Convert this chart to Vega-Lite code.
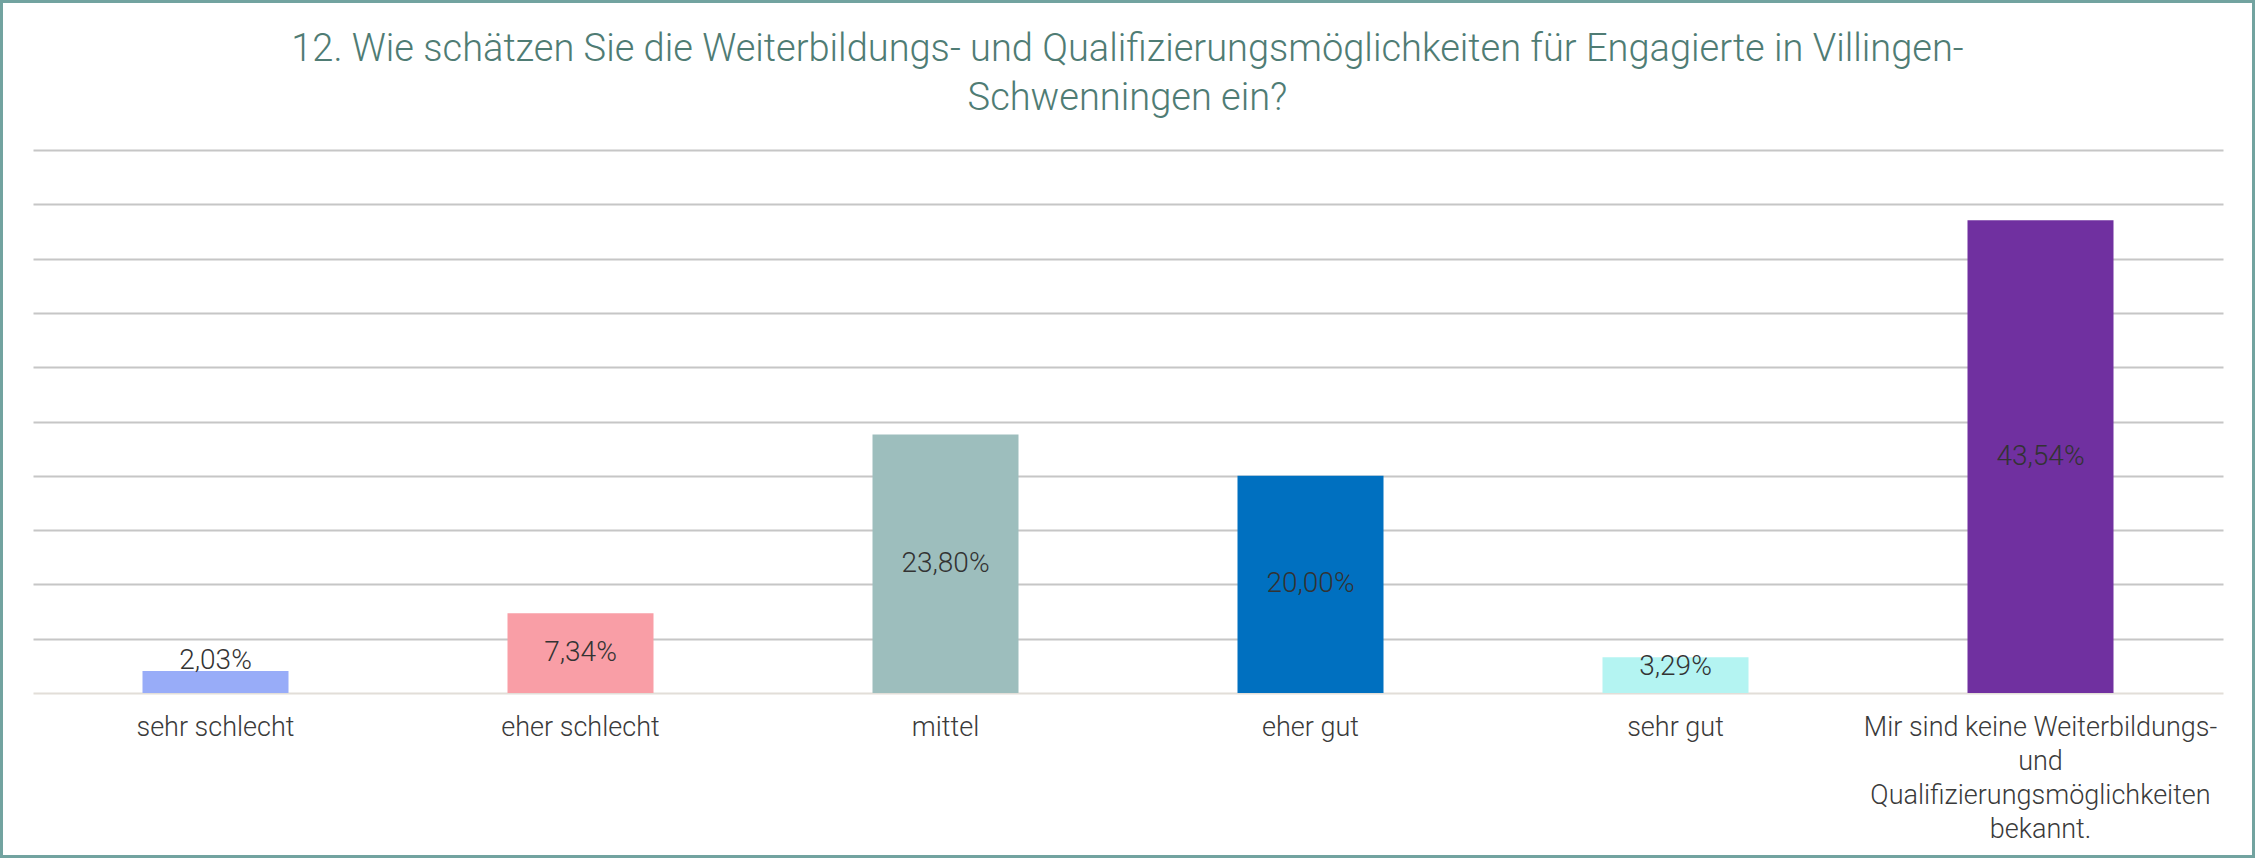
{
  "$schema": "https://vega.github.io/schema/vega-lite/v6.json",
  "width": 2255,
  "height": 858,
  "autosize": {"type": "fit", "contains": "padding"},
  "padding": 0,
  "background": "white",
  "config": {
    "view": {"stroke": "#72A3A0", "strokeWidth": 6},
    "font": "Roboto"
  },
  "title": {
    "text": ["12. Wie schätzen Sie die Weiterbildungs- und Qualifizierungsmöglichkeiten für Engagierte in Villingen-", "Schwenningen ein?"],
    "orient": "top",
    "anchor": "middle",
    "offset": -118,
    "font": "Roboto",
    "fontSize": 38,
    "fontWeight": 300,
    "color": "#4F7C74",
    "lineHeight": 49
  },
  "data": {
    "values": [
      {"category": "sehr schlecht", "value": 2.03},
      {"category": "eher schlecht", "value": 7.34},
      {"category": "mittel", "value": 23.80},
      {"category": "eher gut", "value": 20.00},
      {"category": "sehr gut", "value": 3.29},
      {"category": "Mir sind keine Weiterbildungs- und Qualifizierungsmöglichkeiten bekannt.", "value": 43.54}
    ]
  },
  "encoding": {
    "x": {
      "field": "category",
      "type": "nominal",
      "sort": null,
      "scale": {"range": [33, 2223], "paddingInner": 0.6, "paddingOuter": 0.3},
      "axis": {
        "title": null,
        "orient": "bottom",
        "offset": -165,
        "ticks": false,
        "grid": false,
        "domainColor": "#E2DED8",
        "domainWidth": 2,
        "labelAngle": 0,
        "labelFont": "Roboto",
        "labelFontSize": 27,
        "labelFontWeight": 300,
        "labelColor": "#3A3A3A",
        "labelPadding": 21,
        "labelLineHeight": 34,
        "labelLimit": 0,
        "labelOverlap": false,
        "labelExpr": "datum.label == 'Mir sind keine Weiterbildungs- und Qualifizierungsmöglichkeiten bekannt.' ? ['Mir sind keine Weiterbildungs-', 'und', 'Qualifizierungsmöglichkeiten', 'bekannt.'] : datum.label"
      }
    }
  },
  "layer": [
    {
      "mark": {"type": "bar"},
      "encoding": {
        "y": {
          "field": "value",
          "type": "quantitative",
          "scale": {"domain": [0, 50], "range": [693, 150], "nice": false},
          "axis": {
            "title": null,
            "labels": false,
            "ticks": false,
            "domain": false,
            "grid": true,
            "values": [5, 10, 15, 20, 25, 30, 35, 40, 45, 50],
            "gridColor": "#C6C6C6",
            "gridWidth": 2
          }
        },
        "color": {
          "field": "category",
          "type": "nominal",
          "scale": {
            "domain": ["sehr schlecht", "eher schlecht", "mittel", "eher gut", "sehr gut", "Mir sind keine Weiterbildungs- und Qualifizierungsmöglichkeiten bekannt."],
            "range": ["#98ACF8", "#F99EA6", "#9DBEBD", "#0070C0", "#B4F4F2", "#7030A0"]
          },
          "legend": null
        }
      }
    },
    {
      "transform": [
        {"calculate": "datum.value < 2.5 ? datum.value + 0.9 : max(datum.value / 2, 2.4)", "as": "labelPos"},
        {"calculate": "replace(format(datum.value, '.2f'), '.', ',') + '%'", "as": "labelText"}
      ],
      "mark": {"type": "text", "align": "center", "baseline": "middle", "font": "Roboto", "fontSize": 28, "fontWeight": 300, "color": "#333333"},
      "encoding": {
        "y": {"field": "labelPos", "type": "quantitative"},
        "text": {"field": "labelText"}
      }
    }
  ]
}
